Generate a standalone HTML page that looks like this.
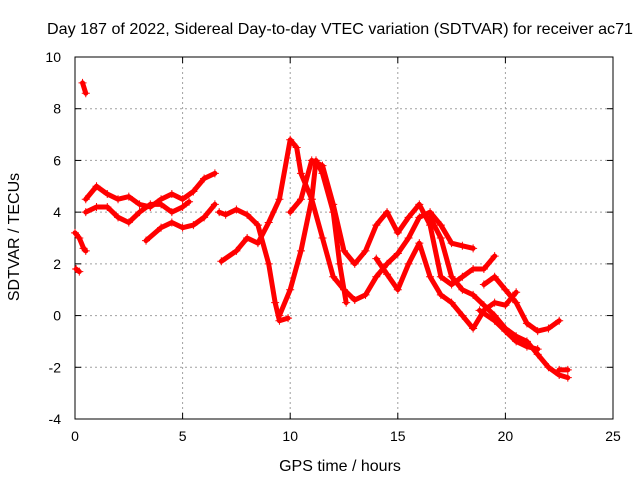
<!DOCTYPE html>
<html><head><meta charset="utf-8"><style>
body{margin:0;background:#fff}
svg text{font-family:"Liberation Sans",sans-serif;font-size:14px;fill:#000}
svg text.big{font-size:16px}
</style></head><body>
<svg id="chart" width="640" height="480">
<rect width="640" height="480" fill="#fff"/>
<g id="grid"></g>
<g id="axes"></g>
<g id="series"></g>
<text class="big" x="340" y="34" text-anchor="middle" textLength="586" lengthAdjust="spacingAndGlyphs">Day 187 of 2022, Sidereal Day-to-day VTEC variation (SDTVAR) for receiver ac71</text>
<text class="big" x="340" y="471" text-anchor="middle">GPS time / hours</text>
<text class="big" x="0" y="0" text-anchor="middle" transform="translate(19,237) rotate(-90)">SDTVAR / TECUs</text>
</svg>
<script>
const xTicks=[0,5,10,15,20,25];
const yTicks=[-4,-2,0,2,4,6,8,10];
const trackA=[[0,3.2],[0.2,3.0],[0.4,2.6],[0.5,2.5]];
const trackA2=[[0.05,1.8],[0.2,1.7]];
const trackB=[[0.35,9.0],[0.5,8.6]];
const trackC=[[0.5,4.5],[1,5.0],[1.5,4.7],[2,4.5],[2.5,4.6],[3,4.3],[3.5,4.2],[4,4.5],[4.5,4.7],[5,4.5],[5.5,4.8],[6,5.3],[6.5,5.5]];
const trackD=[[0.5,4.0],[1,4.2],[1.5,4.2],[2,3.8],[2.5,3.6],[3,4.0],[3.5,4.3],[4,4.3],[4.5,4.0],[5,4.2],[5.3,4.4]];
const trackE=[[3.3,2.9],[4,3.4],[4.5,3.6],[5,3.4],[5.5,3.5],[6,3.8],[6.5,4.3]];
const trackF=[[6.7,4.0],[7,3.9],[7.5,4.1],[8,3.9],[8.5,3.5],[9,2.0],[9.3,0.5],[9.5,-0.2],[9.9,-0.1]];
const trackG=[[6.8,2.1],[7.5,2.5],[8,3.0],[8.5,2.8],[9,3.6],[9.5,4.5],[10,6.8],[10.3,6.5],[10.5,5.5],[11,4.5],[11.5,3.0],[12,1.5],[12.5,1.0],[13,0.6],[13.5,0.8],[14,1.5],[14.5,2.0],[15,2.4],[15.5,3.0],[16,3.8],[16.5,4.0],[17,3.5],[17.5,2.8],[18,2.7],[18.5,2.6]];
const trackH=[[9.5,0.0],[10,1.0],[10.5,2.5],[11,4.5],[11.2,6.0],[11.5,5.5],[12,4.0],[12.3,2.0],[12.6,0.5]];
const trackI=[[10,4.0],[10.5,4.5],[11,6.0],[11.5,5.8],[12,4.3],[12.5,2.5],[13,2.0],[13.5,2.5],[14,3.5],[14.5,4.0],[15,3.2],[15.5,3.8],[16,4.3],[16.5,3.5],[17,1.5],[17.5,1.2],[18,1.5],[18.5,1.8],[19,1.8],[19.5,2.3]];
const trackJ=[[14,2.2],[14.5,1.6],[15,1.0],[15.5,2.0],[16,2.8],[16.5,1.5],[17,0.8],[17.5,0.5],[18,0.0],[18.5,-0.5],[19,0.2],[19.5,0.5],[20,0.4],[20.5,0.9]];
const trackK=[[16.5,3.8],[17,3.0],[17.5,1.5],[18,1.0],[18.5,0.8],[19,0.4],[19.5,0.0],[20,-0.5],[20.5,-0.8],[21,-1.0],[21.5,-1.5],[22,-2.0],[22.5,-2.3],[22.9,-2.4]];
const trackL=[[19,1.2],[19.5,1.5],[20,1.0],[20.5,0.5],[21,-0.3],[21.5,-0.6],[22,-0.5],[22.5,-0.2]];
const trackM=[[18.8,0.2],[19.5,-0.2],[20,-0.6],[20.5,-1.0],[21,-1.2],[21.5,-1.3]];
const trackN=[[22.5,-2.1],[22.9,-2.1]];
const tracks=[trackA,trackA2,trackB,trackC,trackD,trackE,trackF,trackG,trackH,trackI,trackJ,trackK,trackL,trackM,trackN];

const X0=75,X1=613,Y0=419,Y1=57;
const sx=v=>X0+(v-0)/(25-0)*(X1-X0);
const sy=v=>Y0-(v+4)/(14)*(Y0-Y1);
const NS="http://www.w3.org/2000/svg";
function mk(t,a,p){const e=document.createElementNS(NS,t);for(const k in a)e.setAttribute(k,a[k]);p.appendChild(e);return e;}
const grid=document.getElementById('grid'),axes=document.getElementById('axes'),ser=document.getElementById('series');
xTicks.forEach(t=>{const x=sx(t);
 if(t>0&&t<25){const l=mk('line',{x1:x,y1:Y0,x2:x,y2:Y1,stroke:'#a0a0a0','stroke-dasharray':'2,3','stroke-width':1},grid);}
 mk('line',{x1:x,y1:Y0,x2:x,y2:Y0-6,stroke:'#000'},axes);mk('line',{x1:x,y1:Y1,x2:x,y2:Y1+6,stroke:'#000'},axes);
 const tx=mk('text',{x:x,y:Y0+22,'text-anchor':'middle'},axes);tx.textContent=t;
 });
yTicks.forEach(t=>{const y=sy(t);
 if(t>-4&&t<10){const l=mk('line',{x1:X0,y1:y,x2:X1,y2:y,stroke:'#a0a0a0','stroke-dasharray':'2,3','stroke-width':1},grid);}
 mk('line',{x1:X0,y1:y,x2:X0+6,y2:y,stroke:'#000'},axes);mk('line',{x1:X1,y1:y,x2:X1-6,y2:y,stroke:'#000'},axes);
 const tx=mk('text',{x:X0-14,y:y+5,'text-anchor':'end'},axes);tx.textContent=t;
 });
const fr=mk('rect',{x:X0,y:Y1,width:X1-X0,height:Y0-Y1,fill:'none',stroke:'#000'},axes);

tracks.forEach(tr=>{
 const pl=mk('polyline',{points:tr.map(p=>sx(p[0])+','+sy(p[1])).join(' '),fill:'none',stroke:'#ff0000','stroke-width':5,'stroke-linejoin':'round','stroke-linecap':'round'},ser);
 
 
 tr.forEach(p=>{const x=sx(p[0]),y=sy(p[1]);
  const m=mk('path',{d:`M${x-4},${y}H${x+4}M${x},${y-4}V${y+4}`,stroke:'#ff0000','stroke-width':1},ser);
  
  });
});
</script>
</body></html>
